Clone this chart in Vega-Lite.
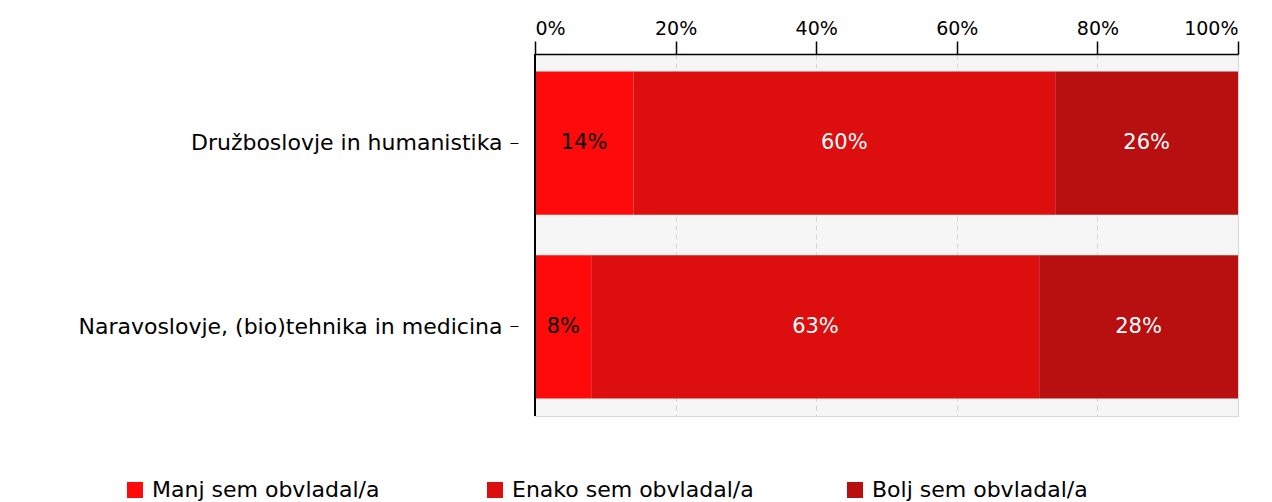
{
  "$schema": "https://vega.github.io/schema/vega-lite/v6.json",
  "width": 703,
  "height": 362,
  "autosize": {"type": "none"},
  "padding": {"left": 535, "top": 54, "right": 34, "bottom": 86},
  "background": "white",
  "config": {
    "font": "DejaVu Sans",
    "view": {"stroke": "#d8d8d8", "fill": "#f6f6f6"}
  },
  "data": {
    "values": [
      {"g": "Družboslovje in humanistika", "c": "Manj sem obvladal/a", "k": 1, "v": 0.14},
      {"g": "Družboslovje in humanistika", "c": "Enako sem obvladal/a", "k": 2, "v": 0.60},
      {"g": "Družboslovje in humanistika", "c": "Bolj sem obvladal/a", "k": 3, "v": 0.26},
      {"g": "Naravoslovje, (bio)tehnika in medicina", "c": "Manj sem obvladal/a", "k": 1, "v": 0.08},
      {"g": "Naravoslovje, (bio)tehnika in medicina", "c": "Enako sem obvladal/a", "k": 2, "v": 0.63},
      {"g": "Naravoslovje, (bio)tehnika in medicina", "c": "Bolj sem obvladal/a", "k": 3, "v": 0.28}
    ]
  },
  "transform": [
    {"stack": "v", "groupby": ["g"], "sort": [{"field": "k", "order": "ascending"}], "offset": "normalize", "as": ["x0", "x1"]},
    {"calculate": "(datum.x0 + datum.x1) / 2", "as": "xm"}
  ],
  "layer": [
    {
      "mark": {"type": "bar"},
      "encoding": {
        "y": {
          "field": "g", "type": "nominal", "sort": null,
          "scale": {"paddingInner": 0.22, "paddingOuter": 0.095},
          "axis": {
            "title": null, "offset": 17, "domain": false, "tickSize": 8, "tickColor": "black",
            "labelPadding": 8, "labelFontSize": 22, "labelColor": "black", "labelLimit": 600
          }
        },
        "x": {
          "field": "x0", "type": "quantitative",
          "scale": {"domain": [0, 1], "nice": false},
          "axis": {
            "orient": "top", "title": null, "values": [0, 0.2, 0.4, 0.6, 0.8, 1], "format": ".0%",
            "tickSize": 13, "tickColor": "black", "domainColor": "black", "domainWidth": 1.5, "tickWidth": 1.5,
            "labelPadding": 3, "labelFontSize": 19, "labelColor": "black",
            "grid": true, "gridDash": [5, 4], "gridColor": "#d4d4d4"
          }
        },
        "x2": {"field": "x1"},
        "color": {
          "field": "c", "type": "nominal",
          "scale": {
            "domain": ["Manj sem obvladal/a", "Enako sem obvladal/a", "Bolj sem obvladal/a"],
            "range": ["#ff0a0a", "#dc0e0e", "#b81010"]
          },
          "legend": {
            "title": null, "orient": "none", "legendX": -411, "legendY": 425,
            "direction": "horizontal", "symbolType": "square", "symbolSize": 256,
            "symbolStrokeWidth": 0, "labelFontSize": 22, "labelColor": "black",
            "labelOffset": 6, "columnPadding": 90, "gridAlign": "all", "labelLimit": 400
          }
        }
      }
    },
    {
      "mark": {"type": "rule", "color": "black", "strokeWidth": 2},
      "encoding": {"x": {"datum": 0, "type": "quantitative"}}
    },
    {
      "mark": {"type": "text", "fontSize": 21, "baseline": "middle", "align": "center"},
      "encoding": {
        "y": {"field": "g", "type": "nominal", "sort": null},
        "x": {"field": "xm", "type": "quantitative"},
        "text": {"field": "v", "type": "quantitative", "format": ".0%"},
        "color": {
          "condition": {"test": "datum.k === 1", "value": "black"},
          "value": "white"
        }
      }
    }
  ]
}
